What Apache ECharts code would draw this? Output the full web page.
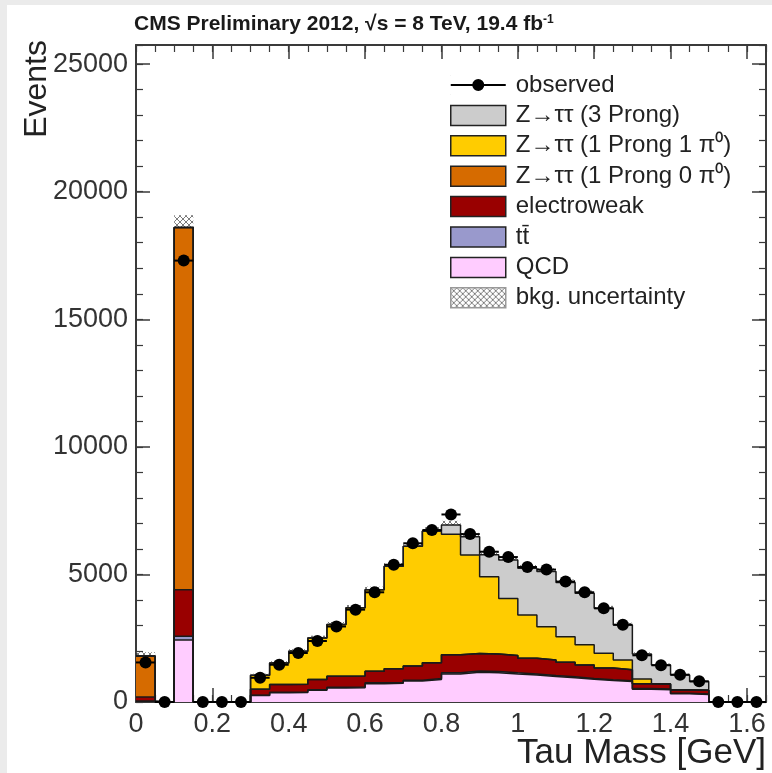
<!DOCTYPE html>
<html><head><meta charset="utf-8">
<script src="https://cdn.jsdelivr.net/npm/echarts@6/dist/echarts.min.js"></script>
<style>html,body{margin:0;padding:0;background:#ebebeb;} #c{width:772px;height:773px;}</style>
</head><body><div id="c"></div>
<script>
// ---- data (bins of width 0.05 GeV, lower edges) ----
const binLow = [0,0.05,0.1,0.15,0.2,0.25,0.3,0.35,0.4,0.45,0.5,0.55,0.6,0.65,0.7,0.75,0.8,0.85,0.9,0.95,1.0,1.05,1.1,1.15,1.2,1.25,1.3,1.35,1.4,1.45,1.5,1.55,1.6];
const binWidth = 0.05;
const observed    = [1550,0,17300,0,0,0,950,1460,1920,2390,2960,3620,4300,5380,6220,6740,7350,6580,5890,5680,5290,5190,4720,4300,3670,3030,1830,1440,1070,810,0,0,0];
const qcd         = [30,0,2430,0,0,0,250,360,370,460,550,560,720,730,820,880,1100,1170,1150,1100,1060,1000,950,890,840,800,500,480,320,290,0,0,0];
const ttbar       = [0,0,150,0,0,0,15,20,20,25,25,30,30,35,35,40,45,45,45,45,40,40,40,35,35,30,25,25,20,20,0,0,0];
const electroweak = [170,0,1820,0,0,0,235,310,310,395,435,430,460,535,555,620,705,685,685,675,610,610,570,525,455,430,195,195,130,150,0,0,0];
const ztt1p0pi0   = [1600,0,14200,0,0,0,0,0,0,0,0,0,0,0,0,0,0,0,0,0,0,0,0,0,0,0,0,0,0,0,0,0,0];
const ztt1p1pi0   = [0,0,0,0,0,0,550,840,1290,1630,2030,2670,3190,4020,4690,5150,4720,3860,3030,2240,1700,1300,1000,790,580,390,180,20,10,5,0,0,0];
const ztt3p       = [0,0,0,0,0,0,0,0,0,0,0,0,0,0,0,10,370,720,860,1510,1830,2160,2120,2020,1760,1370,980,730,580,335,0,0,0];
const bkgUnc      = [150,0,480,0,0,0,60,70,80,90,100,110,120,130,140,150,160,150,140,140,130,130,120,110,100,90,70,60,50,40,0,0,0];
const xTickLabels = ['0','0.2','0.4','0.6','0.8','1','1.2','1.4','1.6'];
const yTickLabels = ['0','5000','10000','15000','20000','25000'];

// ---- build ----
const FONT = '"Liberation Sans", Arial, Helvetica, sans-serif';
const components = [
  {name:'QCD', values:qcd, color:'#ffccff'},
  {name:'tt\u0304', values:ttbar, color:'#9999cc'},
  {name:'electroweak', values:electroweak, color:'#990000'},
  {name:'Z\u2192\u03c4\u03c4 (1 Prong 0 \u03c0\u2070)', values:ztt1p0pi0, color:'#d66b00'},
  {name:'Z\u2192\u03c4\u03c4 (1 Prong 1 \u03c0\u2070)', values:ztt1p1pi0, color:'#ffcc00'},
  {name:'Z\u2192\u03c4\u03c4 (3 Prong)', values:ztt3p, color:'#cccccc'}
];
const cums = [];
let run = binLow.map(() => 0);
components.forEach(c => { run = run.map((v, i) => v + c.values[i]); cums.push(run.slice()); });
const total = cums[cums.length - 1];

const hc = document.createElement('canvas'); hc.width = 6; hc.height = 6;
const g = hc.getContext('2d');
g.strokeStyle = 'rgba(100,100,100,0.85)'; g.lineWidth = 1;
g.beginPath(); g.moveTo(0,0); g.lineTo(6,6); g.moveTo(6,0); g.lineTo(0,6); g.stroke();
const hatch = {image: hc, repeat: 'repeat'};

const stepData = arr => binLow.map((x, i) => [x, arr[i]]).concat([[binLow[binLow.length-1] + binWidth, arr[arr.length-1]]]);

const series = [];
for (let k = components.length - 1; k >= 0; k--) {
  const c = components[k];
  series.push({
    type:'line', name:c.name, data:stepData(cums[k]), step:'end',
    symbol:'none', showSymbol:false, silent:true, animation:false,
    lineStyle:{color:'#1a1a1a', width:1.5},
    itemStyle:{color:c.color},
    areaStyle:{color:c.color, opacity:1},
    emphasis:{disabled:true}
  });
}
series.push({
  type:'custom', name:'bkg. uncertainty', silent:true, animation:false,
  itemStyle:{color:hatch},
  encode:{x:[0,1], y:[2,3]},
  data: binLow.map((x, i) => [x, x + binWidth, total[i] - bkgUnc[i], total[i] + bkgUnc[i]]).filter(d => d[3] > 0),
  renderItem: (params, api) => {
    const p1 = api.coord([api.value(0), api.value(3)]);
    const p2 = api.coord([api.value(1), api.value(2)]);
    return {type:'rect', shape:{x:p1[0], y:p1[1], width:p2[0]-p1[0], height:p2[1]-p1[1]}, style:{fill:hatch}};
  }
});
series.push({
  type:'line', name:'observed', silent:true, animation:false,
  data: binLow.map((x, i) => [x + binWidth/2, observed[i]]),
  symbol:'circle', symbolSize:12, showSymbol:true,
  lineStyle:{width:0, opacity:0}, itemStyle:{color:'#000'}, z:5,
  emphasis:{disabled:true}
});
series.push({
  type:'custom', name:'observed', silent:true, animation:false, z:5,
  encode:{x:[0,1], y:2},
  data: binLow.map((x, i) => [x, x + binWidth, observed[i]]),
  renderItem: (params, api) => {
    const a = api.coord([api.value(0), api.value(2)]);
    const b = api.coord([api.value(1), api.value(2)]);
    return {type:'line', shape:{x1:a[0], y1:a[1], x2:b[0], y2:b[1]}, style:{stroke:'#000', lineWidth:2}};
  }
});

const XMAX = 1.65, YMAX = 25750;
const axisCol = '#3a3a3a';
const xFmt = v => { const i = Math.round(v / 0.2); return Math.abs(i*0.2 - v) < 1e-6 && xTickLabels[i] ? xTickLabels[i] : ''; };
const yFmt = v => { const i = Math.round(v / 5000); return Math.abs(i*5000 - v) < 1e-6 && yTickLabels[i] ? yTickLabels[i] : ''; };
const baseX = {type:'value', min:0, max:XMAX, splitLine:{show:false}};
const baseY = {type:'value', min:0, max:YMAX, splitLine:{show:false}};
const xAxis = [
  Object.assign({}, baseX, {position:'bottom', interval:0.2,
    axisLine:{show:true, onZero:false, lineStyle:{color:axisCol, width:2}},
    axisTick:{show:true, inside:true, length:14, lineStyle:{color:axisCol, width:1.5}},
    axisLabel:{show:true, fontSize:27, color:'#333', fontFamily:FONT, margin:9, showMaxLabel:false, formatter:xFmt}}),
  Object.assign({}, baseX, {position:'bottom', interval:0.05,
    axisLine:{show:false, onZero:false}, axisTick:{show:true, inside:true, length:7, lineStyle:{color:axisCol, width:1.2}}, axisLabel:{show:false}}),
  Object.assign({}, baseX, {position:'top', interval:0.2,
    axisLine:{show:true, onZero:false, lineStyle:{color:axisCol, width:2}},
    axisTick:{show:true, inside:true, length:14, lineStyle:{color:axisCol, width:1.5}}, axisLabel:{show:false}}),
  Object.assign({}, baseX, {position:'top', interval:0.05,
    axisLine:{show:false, onZero:false}, axisTick:{show:true, inside:true, length:7, lineStyle:{color:axisCol, width:1.2}}, axisLabel:{show:false}})
];
const yAxis = [
  Object.assign({}, baseY, {position:'left', interval:5000,
    axisLine:{show:true, onZero:false, lineStyle:{color:axisCol, width:2}},
    axisTick:{show:true, inside:true, length:14, lineStyle:{color:axisCol, width:1.5}},
    axisLabel:{show:true, fontSize:27, color:'#333', fontFamily:FONT, margin:8, showMaxLabel:false, formatter:yFmt}}),
  Object.assign({}, baseY, {position:'left', interval:1000,
    axisLine:{show:false, onZero:false}, axisTick:{show:true, inside:true, length:7, lineStyle:{color:axisCol, width:1.2}}, axisLabel:{show:false}}),
  Object.assign({}, baseY, {position:'right', interval:5000,
    axisLine:{show:true, onZero:false, lineStyle:{color:axisCol, width:2}},
    axisTick:{show:true, inside:true, length:14, lineStyle:{color:axisCol, width:1.5}}, axisLabel:{show:false}}),
  Object.assign({}, baseY, {position:'right', interval:1000,
    axisLine:{show:false, onZero:false}, axisTick:{show:true, inside:true, length:7, lineStyle:{color:axisCol, width:1.2}}, axisLabel:{show:false}})
];

const boxItem = name => ({name, icon:'rect', itemStyle:{borderColor:'#222', borderWidth:1.5}});
const legendData = [
  {name:'observed', icon:'path://M0,0h0.2v0.2h-0.2z M0,19.8h0.2v0.2h-0.2z M0,9h55v2h-55z M33.5,10a6,6 0 1,1 -12,0a6,6 0 1,1 12,0z', itemStyle:{color:'#000', borderWidth:0}},
  boxItem('Z\u2192\u03c4\u03c4 (3 Prong)'),
  boxItem('Z\u2192\u03c4\u03c4 (1 Prong 1 \u03c0\u2070)'),
  boxItem('Z\u2192\u03c4\u03c4 (1 Prong 0 \u03c0\u2070)'),
  boxItem('electroweak'),
  boxItem('tt\u0304'),
  boxItem('QCD'),
  {name:'bkg. uncertainty', icon:'rect', itemStyle:{borderColor:'#999', borderWidth:1.5}}
];

const chart = echarts.init(document.getElementById('c'), null, {renderer:'canvas'});
chart.setOption({
  animation:false,
  backgroundColor:'#ebebeb',
  textStyle:{fontFamily:FONT},
  title:{
    text:'CMS Preliminary 2012, \u221As = 8 TeV, 19.4 fb{sup|-1}',
    left:134, top:14, padding:0,
    textStyle:{fontSize:21, fontWeight:'bold', color:'#1a1a1a', fontFamily:FONT,
      rich:{sup:{fontSize:12, fontWeight:'bold', color:'#1a1a1a', verticalAlign:'top', fontFamily:FONT}}}
  },
  legend:{
    orient:'vertical', left:445, top:68, itemWidth:55, itemHeight:20, itemGap:6.4,
    selectedMode:false, textStyle:{fontSize:24, color:'#222', fontFamily:FONT, padding:[0,0,0,5]},
    data:legendData
  },
  grid:{left:136, right:6, top:45, bottom:71, containLabel:false, outerBoundsMode:'none'},
  xAxis, yAxis,
  graphic:[
    {type:'rect', z:-100, silent:true, shape:{x:7, y:5, width:765, height:768}, style:{fill:'#ffffff'}},
    {type:'text', x:37, y:40, rotation:Math.PI/2, silent:true,
      style:{text:'Events', font:'32px ' + FONT, fill:'#222', align:'right', verticalAlign:'middle', textAlign:'right', textVerticalAlign:'middle'}},
    {type:'text', x:766, y:753, silent:true,
      style:{text:'Tau Mass [GeV]', font:'35px ' + FONT, fill:'#222', align:'right', verticalAlign:'middle', textAlign:'right', textVerticalAlign:'middle'}}
  ],
  series
});
</script></body></html>
